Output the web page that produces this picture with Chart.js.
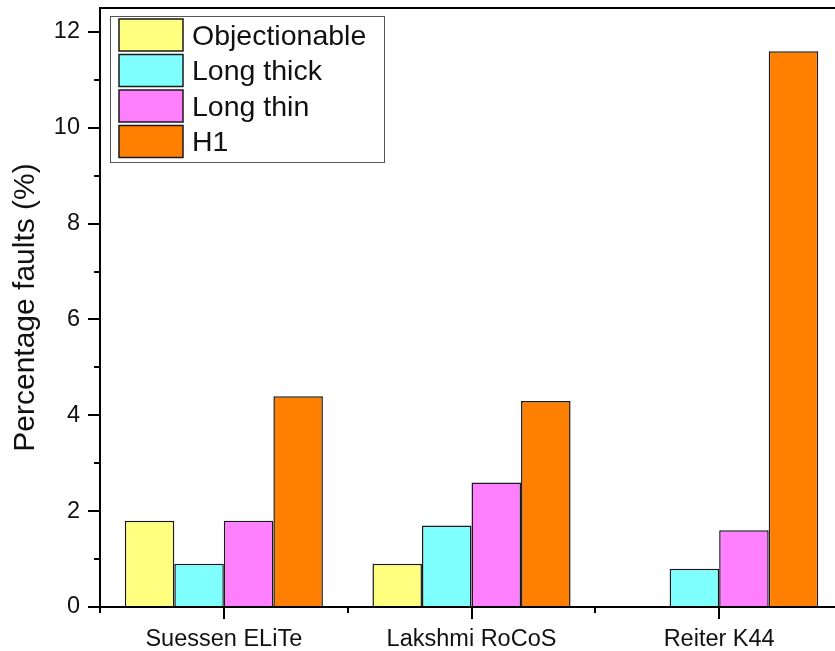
<!DOCTYPE html>
<html lang="en">
<head>
    <meta charset="UTF-8">
    <title>Percentage faults</title>
    <script src="https://cdn.jsdelivr.net/npm/chart.js"></script>
    <style>
        body { margin: 0; overflow: hidden; background: #fff; }
    </style>
</head>
<body>
    <canvas id="faultChart" width="850" height="651"></canvas>

    <script>
        const categories = ['Suessen ELiTe', 'Lakshmi RoCoS', 'Reiter K44'];
        const objectionable = [1.8, 0.9, null];
        const longThick = [0.9, 1.7, 0.8];
        const longThin = [1.8, 2.6, 1.6];
        const h1 = [4.4, 4.3, 11.6];
        const yTicks = [0, 2, 4, 6, 8, 10, 12];
        const yMinorTicks = [1, 3, 5, 7, 9, 11];

        const font = "'Liberation Sans', Arial, sans-serif";

        // frame, minor ticks and boxed legend
        const extras = {
            id: 'extras',
            afterDraw(chart) {
                const ctx = chart.ctx;
                const a = chart.chartArea;
                const x = chart.scales.x, y = chart.scales.y;
                ctx.save();
                ctx.strokeStyle = '#000';
                ctx.lineWidth = 2;
                ctx.strokeRect(a.left, a.top, a.right - a.left, a.bottom - a.top);

                // minor ticks
                ctx.beginPath();
                yMinorTicks.forEach(v => {
                    const py = Math.round(y.getPixelForValue(v));
                    ctx.moveTo(a.left - 6, py);
                    ctx.lineTo(a.left, py);
                });
                const half = (x.getPixelForValue(1) - x.getPixelForValue(0)) / 2;
                for (let i = 0; i <= categories.length; i++) {
                    const px = Math.round(x.getPixelForValue(0) - half + i * 2 * half);
                    ctx.moveTo(px, a.bottom);
                    ctx.lineTo(px, a.bottom + 6);
                }
                ctx.stroke();

                // legend
                ctx.lineWidth = 1;
                ctx.strokeStyle = '#555';
                ctx.strokeRect(110.5, 16.5, 274, 146);
                ctx.font = '28.5px ' + font;
                ctx.textBaseline = 'middle';
                chart.data.datasets.forEach((ds, i) => {
                    const top = 19 + i * 35.5;
                    ctx.fillStyle = ds.backgroundColor;
                    ctx.fillRect(119, top, 64, 32);
                    ctx.strokeStyle = '#1a1a1a';
                    ctx.lineWidth = 1.5;
                    ctx.strokeRect(119, top, 64, 32);
                    ctx.fillStyle = '#111';
                    ctx.fillText(ds.label, 192, top + 18);
                });
                ctx.restore();
            }
        };

        const ctx = document.getElementById('faultChart').getContext('2d');
        new Chart(ctx, {
            type: 'bar',
            data: {
                labels: categories,
                datasets: [
                    { label: 'Objectionable', data: objectionable, backgroundColor: '#FFFF80' },
                    { label: 'Long thick', data: longThick, backgroundColor: '#80FFFF' },
                    { label: 'Long thin', data: longThin, backgroundColor: '#FF80FF' },
                    { label: 'H1', data: h1, backgroundColor: '#FF8000' }
                ].map(d => Object.assign(d, {
                    borderColor: '#1a1a1a',
                    borderWidth: 1.5,
                    categoryPercentage: 0.8,
                    barPercentage: 1.0
                }))
            },
            options: {
                responsive: false,
                animation: false,
                layout: { padding: { left: 0, top: 8, right: 7, bottom: 0 } },
                plugins: {
                    legend: { display: false },
                    tooltip: { enabled: false }
                },
                scales: {
                    x: {
                        afterFit: s => { s.height = 44; s.paddingLeft = 0; s.paddingRight = 0; },
                        grid: {
                            offset: false,
                            drawOnChartArea: false,
                            color: '#000',
                            lineWidth: 2,
                            tickLength: 12
                        },
                        border: { color: '#000', width: 2 },
                        ticks: {
                            color: '#111',
                            padding: 6,
                            maxRotation: 0,
                            font: { family: font, size: 23.5 }
                        }
                    },
                    y: {
                        min: 0,
                        max: 12.5,
                        afterFit: s => { s.width = 100; s.paddingTop = 0; s.paddingBottom = 0; },
                        afterBuildTicks: s => { s.ticks = yTicks.map(v => ({ value: v })); },
                        grid: {
                            drawOnChartArea: false,
                            color: '#000',
                            lineWidth: 2,
                            tickLength: 12
                        },
                        border: { color: '#000', width: 2 },
                        ticks: {
                            color: '#111',
                            padding: 8,
                            font: { family: font, size: 23.5 }
                        },
                        title: {
                            display: true,
                            text: 'Percentage faults (%)',
                            color: '#111',
                            padding: { top: 8 },
                            font: { family: font, size: 30 }
                        }
                    }
                }
            },
            plugins: [extras]
        });
    </script>
</body>
</html>
